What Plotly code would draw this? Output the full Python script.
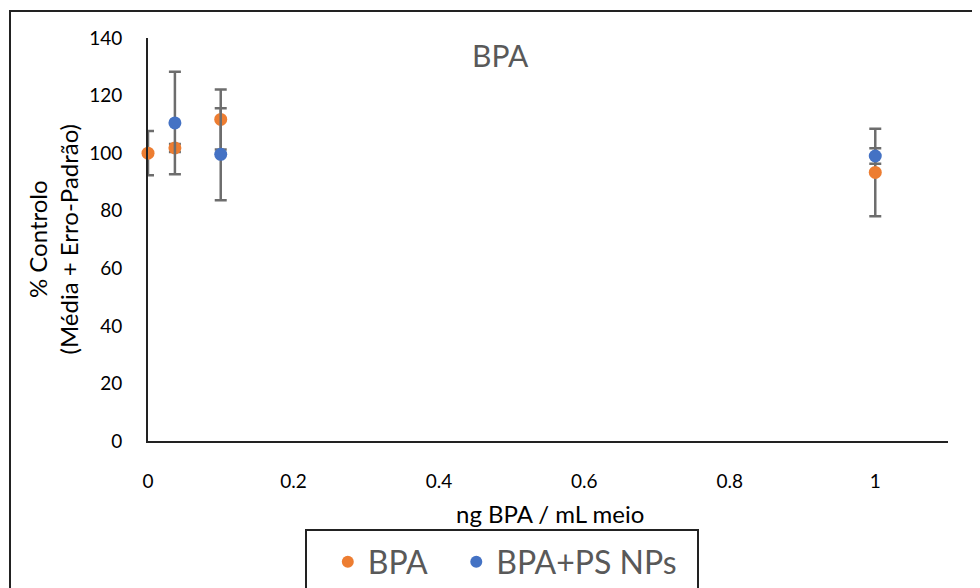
import plotly.graph_objects as go

# Data
conc = [0, 0.037, 0.1, 1]
bpa_mean = [100.0, 101.8, 111.7, 93.3]
bpa_err = [7.7, 1.4, 10.4, 15.2]
conc_np = [0.037, 0.1, 1]
np_mean = [110.5, 99.6, 99.0]
np_err = [17.8, 16.0, 2.7]
series_names = ["BPA", "BPA+PS NPs"]

FONT = "Lato"
ORANGE = "#ED7D31"
BLUE = "#4472C4"
ERR = "#6d6d6d"
PAD = "\u00a0" * 3  # widen the first legend entry

fig = go.Figure()
fig.add_trace(go.Scatter(
    x=conc, y=bpa_mean, mode="markers", name=series_names[0] + PAD, cliponaxis=False,
    marker=dict(color=ORANGE, size=13),
    error_y=dict(type="data", array=bpa_err, visible=True, color=ERR, thickness=2.5, width=6),
))
fig.add_trace(go.Scatter(
    x=conc_np, y=np_mean, mode="markers", name=series_names[1], cliponaxis=False,
    marker=dict(color=BLUE, size=13),
    error_y=dict(type="data", array=np_err, visible=True, color=ERR, thickness=2.5, width=6),
))

fig.update_layout(
    width=972, height=580,
    margin=dict(l=140, r=32, t=30, b=147, autoexpand=False),
    paper_bgcolor="white", plot_bgcolor="white",
    font=dict(family=FONT, color="black"),
    showlegend=True,
    legend=dict(orientation="h", x=0.446, xanchor="center", y=-0.30, yanchor="middle",
                bgcolor="rgba(0,0,0,0)", font=dict(size=32, color="#595959"),
                itemsizing="constant"),
    xaxis=dict(range=[0, 1.1], tickvals=[0, 0.2, 0.4, 0.6, 0.8, 1],
               ticktext=["0", "0.2", "0.4", "0.6", "0.8", "1"],
               showgrid=False, zeroline=False, showline=True, linecolor="#222", linewidth=2,
               ticks="", ticklabelstandoff=22, tickfont=dict(size=19, color="black")),
    yaxis=dict(range=[0, 140], tickvals=[0, 20, 40, 60, 80, 100, 120, 140],
               showgrid=False, zeroline=False, showline=True, linecolor="#222", linewidth=2,
               ticks="", ticklabelstandoff=20, tickfont=dict(size=19, color="black")),
    annotations=[
        dict(text="BPA", x=0.44, y=0.958, xref="paper", yref="paper", showarrow=False,
             xanchor="center", yanchor="middle", font=dict(size=30, color="#595959")),
        dict(text="% Controlo<br>(Média + Erro-Padrão)", x=-0.12, y=0.5, xref="paper", yref="paper",
             showarrow=False, textangle=-90, xanchor="center", yanchor="middle",
             font=dict(size=24, color="black")),
        dict(text="ng BPA / mL meio", x=0.5025, y=-0.179, xref="paper", yref="paper",
             showarrow=False, xanchor="center", yanchor="middle", font=dict(size=24, color="black")),
    ],
    shapes=[
        dict(type="rect", xref="paper", yref="paper", x0=-0.1725, x1=1.06, y0=-0.40, y1=1.067,
             line=dict(color="#222", width=2), fillcolor="rgba(0,0,0,0)", layer="below"),
        dict(type="rect", xref="paper", yref="paper", x0=0.1975, x1=0.6875, y0=-0.40, y1=-0.221,
             line=dict(color="#222", width=2), fillcolor="rgba(0,0,0,0)", layer="below"),
    ],
)

fig.write_html("out.html")
